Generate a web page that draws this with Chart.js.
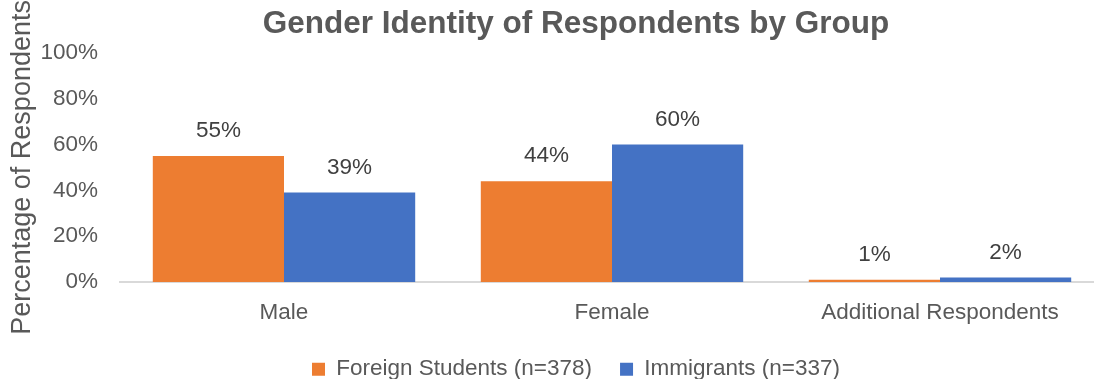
<!DOCTYPE html>
<html>
<head>
<meta charset="utf-8">
<script src="https://cdn.jsdelivr.net/npm/chart.js@4/dist/chart.umd.min.js"></script>
<style>
  html, body { margin: 0; padding: 0; overflow: hidden; background: #ffffff; width: 1094px; height: 379px; }
  canvas { display: block; }
</style>
</head>
<body>
<canvas id="chart" width="1152" height="379"></canvas>
<script>
// Survey breakdown: share of respondents per gender identity, by group
const categories = ['Male', 'Female', 'Additional Respondents'];
const foreignStudents = [55, 44, 1];
const immigrants = [39, 60, 2];
const seriesNames = ['Foreign Students (n=378)', 'Immigrants (n=337)'];
const yTicks = [0, 20, 40, 60, 80, 100];

const FONT = '"Liberation Sans", Arial, sans-serif';
const TEXT_GRAY = '#595959';

// Writes each bar's percentage just above its top edge
const barValueLabels = {
  id: 'barValueLabels',
  afterDatasetsDraw(chart) {
    const ctx = chart.ctx;
    ctx.save();
    ctx.font = '22.5px ' + FONT;
    ctx.fillStyle = '#404040';
    ctx.textAlign = 'center';
    ctx.textBaseline = 'middle';
    chart.data.datasets.forEach((ds, di) => {
      const meta = chart.getDatasetMeta(di);
      meta.data.forEach((bar, i) => {
        ctx.fillText(ds.data[i] + '%', bar.x, bar.y - 25);
      });
    });
    ctx.restore();
  }
};

new Chart(document.getElementById('chart'), {
  type: 'bar',
  data: {
    labels: categories,
    datasets: [
      { label: seriesNames[0], data: foreignStudents, backgroundColor: '#ED7D31', yAxisID: 'y' },
      { label: seriesNames[1], data: immigrants, backgroundColor: '#4472C4', yAxisID: 'y' }
    ]
  },
  options: {
    responsive: false,
    animation: false,
    devicePixelRatio: 1,
    categoryPercentage: 0.8,
    barPercentage: 1.0,
    layout: { padding: 0 },
    plugins: {
      tooltip: { enabled: false },
      title: {
        display: true,
        text: 'Gender Identity of Respondents by Group',
        color: TEXT_GRAY,
        font: { family: FONT, size: 31.5, weight: 'bold', lineHeight: 1.2 },
        padding: { top: 5, bottom: 10 }
      },
      legend: {
        position: 'bottom',
        maxHeight: 49,
        labels: {
          color: TEXT_GRAY,
          font: { family: FONT, size: 22.5 },
          boxWidth: 13,
          boxHeight: 13,
          padding: 28
        }
      }
    },
    scales: {
      x: {
        grid: { display: false },
        border: { display: true, color: '#D9D9D9', width: 2 },
        ticks: { color: TEXT_GRAY, font: { family: FONT, size: 22.5 }, padding: 9, maxRotation: 0 },
        afterFit(scale) { scale.height = 48; }
      },
      y: {
        min: 0,
        max: 100,
        afterBuildTicks(scale) { scale.ticks = yTicks.map(v => ({ value: v })); },
        grid: { display: false },
        border: { display: false },
        ticks: {
          color: TEXT_GRAY,
          font: { family: FONT, size: 22.5 },
          padding: 14,
          callback: v => v + '%'
        },
        title: {
          display: true,
          text: 'Percentage of Respondents',
          color: TEXT_GRAY,
          font: { family: FONT, size: 27 },
          padding: { top: 6, bottom: 0 }
        },
        afterFit(scale) { scale.width = 120; }
      },
      // empty right-hand gutter that keeps the plot area off the far edge
      gutter: {
        position: 'right',
        display: true,
        grid: { display: false },
        border: { display: false },
        ticks: { display: false },
        afterFit(scale) { scale.width = 48; }
      }
    }
  },
  plugins: [barValueLabels]
});
</script>
</body>
</html>
